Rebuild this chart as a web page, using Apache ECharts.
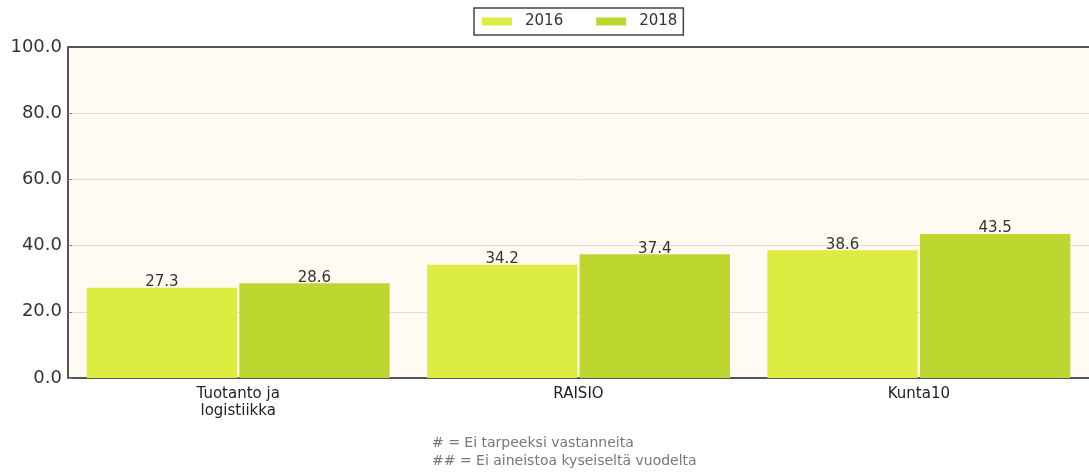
<!DOCTYPE html>
<html>
<head>
<meta charset="utf-8">
<script src="https://cdn.jsdelivr.net/npm/echarts@6/dist/echarts.min.js"></script>
<style>
html,body{margin:0;padding:0;background:#fff;}
#chart{width:1089px;height:474px;}
</style>
</head>
<body>
<div id="chart"></div>
<script>
// data
var categories = ['Tuotanto ja\nlogistiikka', 'RAISIO', 'Kunta10'];
var years = ['2016', '2018'];
var values2016 = [27.3, 34.2, 38.6];
var values2018 = [28.6, 37.4, 43.5];
var footnotes = ['# = Ei tarpeeksi vastanneita', '## = Ei aineistoa kyseiseltä vuodelta'];

var colors = ['#ddec40', '#bed630'];
var font = 'DejaVu Sans';

var e = echarts.init(document.getElementById('chart'));
var labelOpt = {show: true, position: 'top', distance: -2, color: '#333', fontSize: 15, fontFamily: font,
    formatter: function(p){ return p.value.toFixed(1); }};
var option = {
    animation: false,
    color: colors,
    textStyle: {fontFamily: font},
    legend: {
        top: 8, left: 474, itemWidth: 30, itemHeight: 8, itemGap: 33,
        borderColor: '#444', borderWidth: 1.5, borderRadius: 0, padding: [6, 6, 6, 8],
        icon: 'rect', textStyle: {fontSize: 15, color: '#333', fontFamily: font, padding: [0, 0, 0, 8]},
        data: years
    },
    graphic: [
        {type: 'text', left: 432, top: 434, style: {text: footnotes.join('\n'), fill: '#777', fontSize: 14, fontFamily: font, lineHeight: 18}}
    ],
    grid: {left: 68, top: 47, right: -6, bottom: 96, show: true, backgroundColor: '#fffbf3', borderWidth: 0},
    xAxis: {
        type: 'category', data: categories,
        axisLine: {lineStyle: {color: '#555', width: 2}},
        axisTick: {show: false},
        axisLabel: {color: '#222', fontSize: 15, fontFamily: font, margin: 8, lineHeight: 17}
    },
    yAxis: {
        type: 'value', min: 0, max: 100, interval: 20,
        axisLine: {show: true, lineStyle: {color: '#555', width: 2}},
        axisTick: {show: true, inside: true, length: 4, lineStyle: {color: '#888'}},
        splitLine: {show: true, lineStyle: {color: '#ddd'}},
        axisLabel: {color: '#333', fontSize: 18, fontFamily: font, margin: 6,
            formatter: function(v){ return v.toFixed(1); }}
    },
    series: [
        {name: years[0], type: 'bar', data: values2016, barGap: '1.5%', barCategoryGap: '11%', label: labelOpt},
        {name: years[1], type: 'bar', data: values2018, barGap: '1.5%', barCategoryGap: '11%', label: labelOpt},
        // top border of the plot
        {type: 'line', data: [], markLine: {silent: true, symbol: 'none', label: {show: false},
            lineStyle: {color: '#555', width: 2, type: 'solid'}, data: [{yAxis: 100}]}}
    ]
};
e.setOption(option);
</script>
</body>
</html>
